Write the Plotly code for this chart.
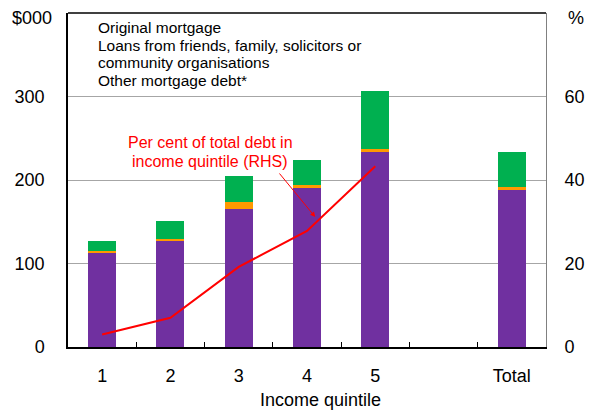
import plotly.graph_objects as go

categories = ["1", "2", "3", "4", "5", " ", "Total"]
original_mortgage = [112, 127, 165, 191, 234, None, 188]
loans_friends = [2.5, 2, 9, 2.5, 3, None, 4]
other_mortgage = [12, 22, 31, 30.5, 70, None, 42]
line_categories = ["1", "2", "3", "4", "5"]
pct_total_debt = [3.0, 7.0, 19.2, 27.8, 43.3]

legend_lines = ["Original mortgage",
                "Loans from friends, family, solicitors or",
                "community organisations",
                "Other mortgage debt*"]

FONT = "Liberation Sans, Arial, sans-serif"
# plot area edges in reference-image pixels
L, R, T, B = 67.5, 546.0, 13.0, 347.0
# page body has an 8px default margin, so the figure starts at (8, 8)
OFF = 8
W, H = 593 - OFF, 412 - OFF

def px(x):
    return (x - L) / (R - L)

def py(y):
    return (B - y) / (B - T)

fig = go.Figure()
fig.add_trace(go.Bar(x=categories, y=original_mortgage, name="Original mortgage",
                     marker=dict(color="#7030A0", line=dict(width=0)), showlegend=False))
fig.add_trace(go.Bar(x=categories, y=loans_friends, name="Loans",
                     marker=dict(color="#FF9900", line=dict(width=0)), showlegend=False))
fig.add_trace(go.Bar(x=categories, y=other_mortgage, name="Other mortgage debt*",
                     marker=dict(color="#00B050", line=dict(width=0)), showlegend=False))
fig.add_trace(go.Scatter(x=line_categories, y=pct_total_debt, mode="lines",
                         line=dict(color="#FF0000", width=2), yaxis="y2", showlegend=False))

annotations = []
legend_y = [28, 45.5, 63, 80.5]
for txt, yy in zip(legend_lines, legend_y):
    annotations.append(dict(text=txt, xref="paper", yref="paper", x=px(96), y=py(yy),
                            xanchor="left", yanchor="middle", showarrow=False,
                            font=dict(family=FONT, size=15.5, color="#000000")))
annotations.append(dict(text="Per cent of total debt in", xref="paper", yref="paper",
                        x=px(210), y=py(142), xanchor="center", yanchor="middle", showarrow=False,
                        font=dict(family=FONT, size=16, color="#FF0000")))
annotations.append(dict(text="income quintile (RHS)", xref="paper", yref="paper",
                        x=px(210), y=py(161), xanchor="center", yanchor="middle", showarrow=False,
                        font=dict(family=FONT, size=16, color="#FF0000")))
annotations.append(dict(text="", xref="paper", yref="paper", x=px(315), y=py(217),
                        ax=278 - 315, ay=172 - 217, showarrow=True, arrowhead=2,
                        arrowsize=1, arrowwidth=1, arrowcolor="#FF0000"))
annotations.append(dict(text="$000", xref="paper", yref="paper", x=px(53), y=py(18),
                        xanchor="right", yanchor="middle", showarrow=False,
                        font=dict(family=FONT, size=18, color="#000000")))
annotations.append(dict(text="%", xref="paper", yref="paper", x=px(576), y=py(18),
                        xanchor="center", yanchor="middle", showarrow=False,
                        font=dict(family=FONT, size=18, color="#000000")))
annotations.append(dict(text="Income quintile", xref="paper", yref="paper", x=px(320), y=py(400),
                        xanchor="center", yanchor="middle", showarrow=False,
                        font=dict(family=FONT, size=18, color="#000000")))

fig.update_layout(
    width=W, height=H,
    margin=dict(l=L - OFF, r=593 - R, t=T - OFF, b=412 - B, pad=0),
    paper_bgcolor="white", plot_bgcolor="white",
    barmode="stack", bargap=0.59,
    font=dict(family=FONT, size=18, color="#000000"),
    xaxis=dict(type="category", categoryorder="array", categoryarray=categories,
               range=[-0.5, 6.5], tickson="boundaries", ticks="inside", ticklen=5,
               tickcolor="#000000", showline=True, linecolor="#000000", linewidth=1.5,
               showgrid=False, ticklabelstandoff=12, mirror=False,
               tickfont=dict(family=FONT, size=18)),
    yaxis=dict(range=[0, 400], tickvals=[0, 100, 200, 300], showgrid=True,
               gridcolor="#A6A6A6", gridwidth=1, showline=True, linecolor="#000000",
               linewidth=1.5, ticks="", ticklabelstandoff=18, zeroline=False,
               tickfont=dict(family=FONT, size=18)),
    yaxis2=dict(range=[0, 80], tickvals=[0, 20, 40, 60], overlaying="y", side="right",
                showgrid=False, showline=True, linecolor="#808080", linewidth=1,
                ticks="", ticklabelstandoff=14, zeroline=False,
                tickfont=dict(family=FONT, size=18)),
    annotations=annotations,
    shapes=[dict(type="line", xref="paper", yref="paper", x0=0, x1=1, y0=1, y1=1,
                 line=dict(color="#000000", width=1.5))],
)

fig.write_html("out.html")
